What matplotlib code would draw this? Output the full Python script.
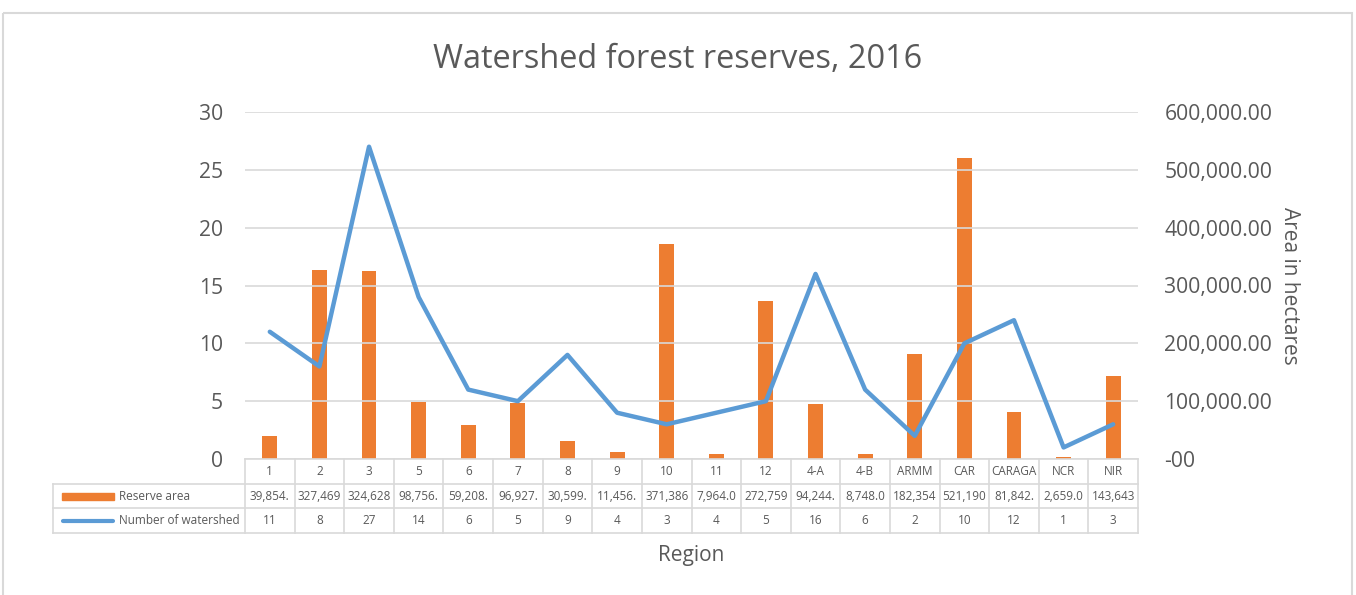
import matplotlib.pyplot as plt
import matplotlib.transforms as mtransforms
from matplotlib.patches import Rectangle

plt.rcParams['font.family'] = ['Open Sans', 'DejaVu Sans']

regions = ['1', '2', '3', '5', '6', '7', '8', '9', '10', '11', '12',
           '4-A', '4-B', 'ARMM', 'CAR', 'CARAGA', 'NCR', 'NIR']
reserve_area = [39854.0, 327469.0, 324628.0, 98756.0, 59208.0, 96927.0,
                30599.0, 11456.0, 371386.0, 7964.0, 272759.0, 94244.0,
                8748.0, 182354.0, 521190.0, 81842.0, 2659.0, 143643.0]
n_watershed = [11, 8, 27, 14, 6, 5, 9, 4, 3, 4, 5, 16, 6, 2, 10, 12, 1, 3]
left_ticks = [0, 5, 10, 15, 20, 25, 30]
right_ticks = [0, 100000, 200000, 300000, 400000, 500000, 600000]

W, H = 1356, 595
orange = '#ED7D31'
blue = '#5B9BD5'
grid = '#D9D9D9'
txt = '#595959'

fig = plt.figure(figsize=(W / 100, H / 100), dpi=100)

# plot area in pixels
x0, x1, ytop, ybot = 245, 1138, 112, 459
ax = fig.add_axes([x0 / W, 1 - ybot / H, (x1 - x0) / W, (ybot - ytop) / H])
ax2 = ax.twinx()
n = len(regions)
xs = list(range(n))

ax2.bar(xs, reserve_area, width=0.3, color=orange, zorder=2)
ax.plot(xs, n_watershed, color=blue, lw=3.2, solid_capstyle='round', zorder=3)
ax.set_zorder(ax2.get_zorder() + 1)
ax.patch.set_visible(False)

ax.set_xlim(-0.5, n - 0.5)
ax.set_ylim(0, 30)
ax2.set_ylim(0, 600000)
ax.set_yticks(left_ticks)
ax2.set_yticks(right_ticks)
ax2.set_yticklabels(['-00'] + [f'{v:,.2f}' for v in right_ticks[1:]])
ax.set_xticks([])
for a in (ax, ax2):
    for s in a.spines.values():
        s.set_visible(False)
    a.tick_params(length=0, labelsize=15.2, labelcolor=txt)
ax.tick_params(axis='y', pad=16)
ax2.tick_params(axis='y', pad=19)
ax.yaxis.grid(True, color=grid, lw=1.2)
ax.set_axisbelow(True)

ax2.set_ylabel('Area in hectares', rotation=270, fontsize=15, color=txt, labelpad=20)

fig.text(0.5, 1 - 60 / H, 'Watershed forest reserves, 2016', ha='center', va='center',
         fontsize=23.4, color=txt)
fig.text((x0 + x1) / 2 / W, 1 - 555 / H, 'Region', ha='center', va='center',
         fontsize=15, color=txt)

# overlay in pixel coordinates for the data table and chart border
ov = fig.add_axes([0, 0, 1, 1], zorder=-5)
ov.set_xlim(0, W)
ov.set_ylim(H, 0)
ov.axis('off')
ov.add_patch(Rectangle((3, 13), 1349, 600, fill=False, ec='#D9D9D9', lw=1.5))

bt = mtransforms.blended_transform_factory(ax.transData, ov.transData)
tab_left = 53
rows = [459, 484, 508, 533]
tcol = '#D9D9D9'
# horizontal lines
ov.plot([x0, x1], [rows[0], rows[0]], color=tcol, lw=1.2)
for y in rows[1:]:
    ov.plot([tab_left, x1], [y, y], color=tcol, lw=1.2)
ov.plot([tab_left, tab_left], [rows[1], rows[3]], color=tcol, lw=1.2)
for i in range(n + 1):
    ax.plot([i - 0.5, i - 0.5], [rows[0], rows[3]], color=tcol, lw=1.2,
            transform=bt, clip_on=False)

for i, r in enumerate(regions):
    yc = [(rows[k] + rows[k + 1]) / 2 for k in range(3)]
    ax.text(i, yc[0], r, transform=bt, ha='center', va='center', fontsize=8.5,
            color=txt, clip_on=False)
    ax.text(i, yc[1], f'{reserve_area[i]:,.2f}'[:7], transform=bt, ha='center',
            va='center', fontsize=8.5, color=txt, clip_on=False)
    ax.text(i, yc[2], str(n_watershed[i]), transform=bt, ha='center',
            va='center', fontsize=8.5, color=txt, clip_on=False)

ym1 = (rows[1] + rows[2]) / 2
ym2 = (rows[2] + rows[3]) / 2
ov.add_patch(Rectangle((62, ym1 - 3.5), 52, 7, color=orange))
ov.plot([63, 113], [ym2, ym2], color=blue, lw=3, solid_capstyle='round')
ov.text(119, ym1, 'Reserve area', ha='left', va='center', fontsize=8.5, color=txt)
ov.text(119, ym2, 'Number of watershed', ha='left', va='center', fontsize=8.5, color=txt)

fig.savefig('out.png', dpi=100)
